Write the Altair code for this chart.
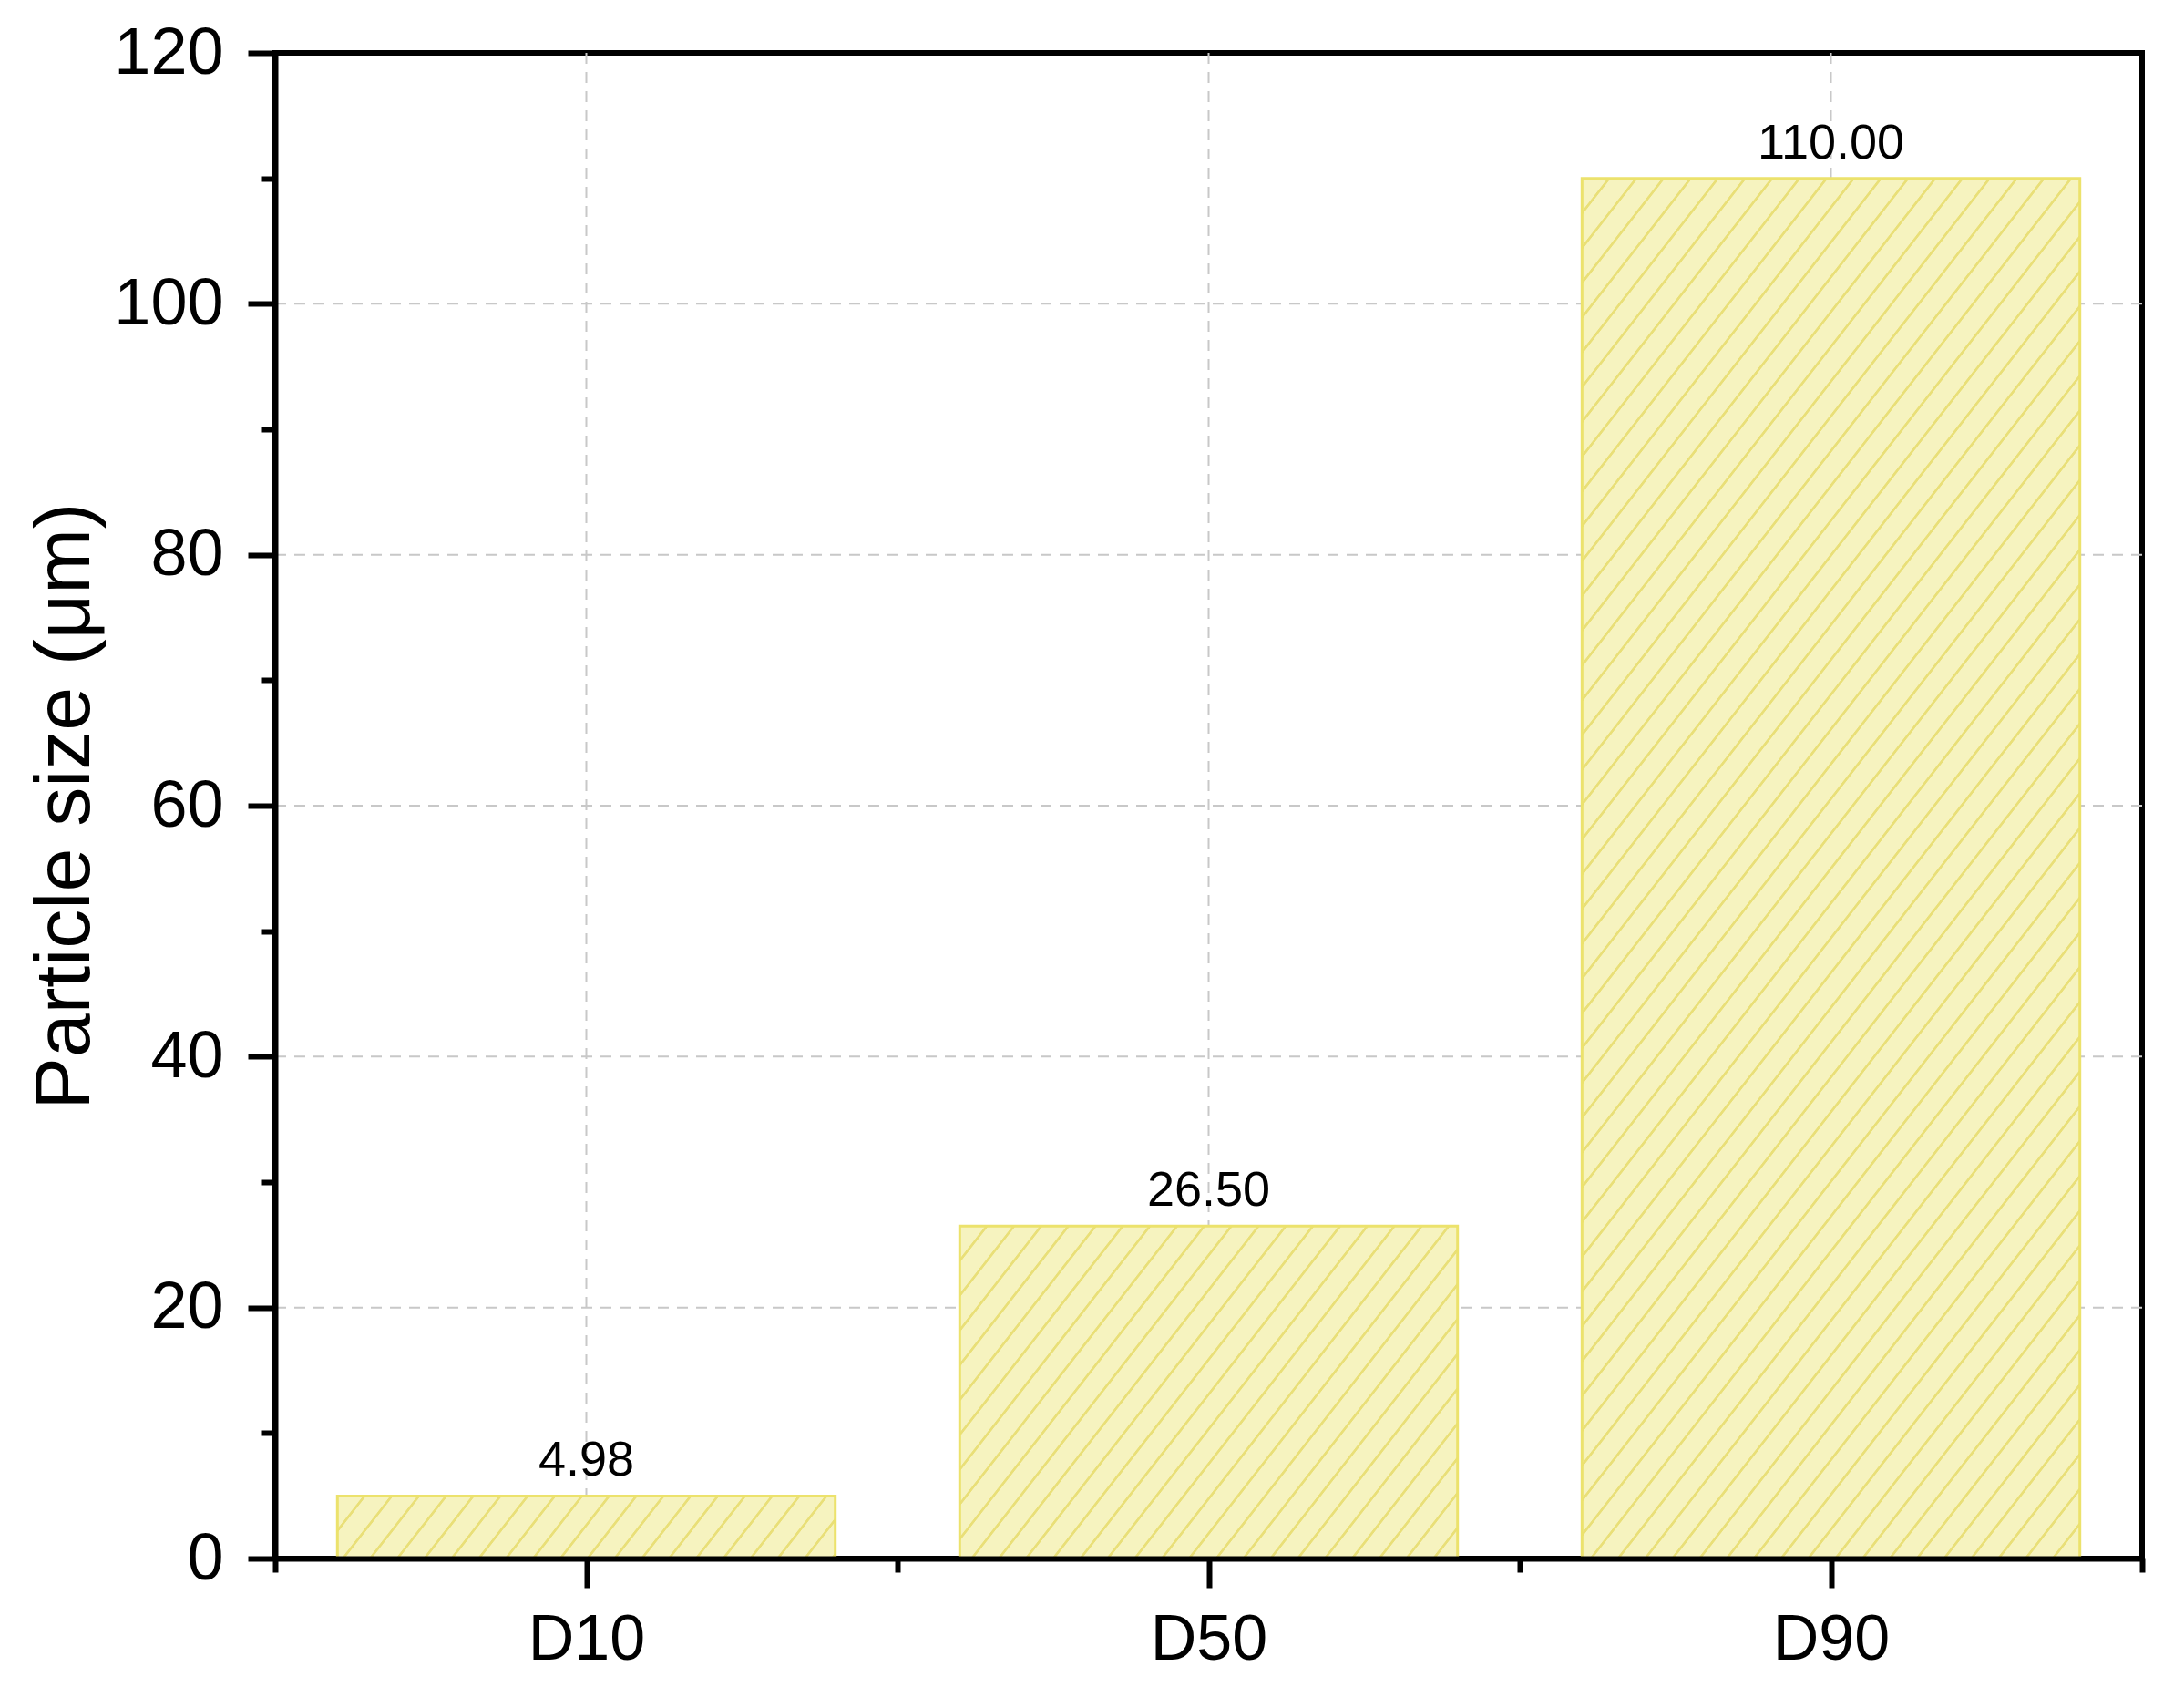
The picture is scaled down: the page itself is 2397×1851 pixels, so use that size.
import json
import math

import altair as alt
import pandas as pd

# ---------------- data ----------------
categories = ["D10", "D50", "D90"]
values = [4.98, 26.50, 110.00]

y_tick_values = list(range(0, 121, 10))
x_tick_values = [0, 0.5, 1, 1.5, 2, 2.5, 3]

# ---------------- layout / style ----------------
PLOT_W = 2049
PLOT_H = 1652
Y_MAX = 120
BAR_FRAC = 0.8

FILL = "#F6F3BF"
HATCH = "#E9DF78"
EDGE = "#ECE26C"
GRID = "#C8C8C8"
FONT = "Liberation Sans"

df = pd.DataFrame({"cat": categories, "value": values, "idx": list(range(len(categories)))})

# grid positions derived from the tick lists
grid_y = pd.DataFrame({"gy": [v for v in y_tick_values if v % 20 == 0 and 0 < v < Y_MAX]})
grid_x = pd.DataFrame({"gx": [v for v in x_tick_values if v % 1 == 0.5]})


def hatch_gradient(w, h, angle_deg=52.0, spacing=23.5, line_w=2.0, fade=0.7):
    """Diagonal hatch emulated with a linear gradient (bbox units)."""
    th = math.radians(angle_deg)
    a = w * math.sin(th)
    b = h * math.cos(th)
    length = a + b
    k = length / (a * a + b * b)
    dx, dy = k * a, k * b
    hw = line_w / 2.0 / length
    fd = fade / length
    stops = [{"offset": 0, "color": FILL}]
    i = 1
    while True:
        p = i * spacing / length
        if p + hw + fd >= 1:
            break
        for off, col in ((p - hw - fd, FILL), (p - hw, HATCH), (p + hw, HATCH), (p + hw + fd, FILL)):
            stops.append({"offset": round(off, 6), "color": col})
        i += 1
    stops.append({"offset": 1, "color": FILL})
    return {"gradient": "linear", "x1": 0, "y1": 0, "x2": round(dx, 6), "y2": round(dy, 6), "stops": stops}


band_px = PLOT_W / len(categories) * BAR_FRAC
conds = []
for c, v in zip(categories, values):
    conds.append({"test": f"datum.cat === '{c}'", "value": hatch_gradient(band_px, v / Y_MAX * PLOT_H)})
fill_enc = {"condition": conds[:-1], "value": conds[-1]["value"]}

half = "datum.value % 1 === 0.5"
x_axis = alt.Axis(
    values=x_tick_values,
    title=None,
    labelExpr=f"{half} ? {json.dumps(categories)}[floor(datum.value)] : ''",
    tickSize={"condition": {"test": half, "value": 32}, "value": 15},
    grid=False,
    domainColor="black",
    domainWidth=6,
    tickColor="black",
    tickWidth=6,
    labelFont=FONT,
    labelFontSize=70,
    labelColor="black",
    labelPadding=23,
    labelBaseline="top",
    labelFlush=False,
    labelOverlap=False,
    zindex=1,
)

major = "datum.value % 20 === 0"
y_axis = alt.Axis(
    values=y_tick_values,
    title="Particle size (μm)",
    titleFont=FONT,
    titleFontSize=86,
    titleFontWeight="normal",
    titleColor="black",
    titleAngle=270,
    titleBaseline="alphabetic",
    titleAlign="center",
    titleX=-205,
    titleY=PLOT_H / 2,
    labelExpr=f"{major} ? datum.label : ''",
    tickSize={"condition": {"test": major, "value": 30}, "value": 15},
    grid=False,
    domainColor="black",
    domainWidth=6,
    tickColor="black",
    tickWidth=6,
    labelFont=FONT,
    labelFontSize=72,
    labelColor="black",
    labelPadding=27,
    labelOverlap=False,
    zindex=1,
)

x_scale = alt.Scale(domain=[0, len(categories)], nice=False, zero=False)
y_scale = alt.Scale(domain=[0, Y_MAX], nice=False)

grid_h = alt.Chart(grid_y).mark_rule(color=GRID, strokeWidth=2, strokeDash=[12, 9]).encode(
    y=alt.Y("gy:Q", scale=y_scale, axis=y_axis)
)
grid_v = alt.Chart(grid_x).mark_rule(color=GRID, strokeWidth=2, strokeDash=[12, 9]).encode(
    x=alt.X("gx:Q", scale=x_scale, axis=x_axis)
)

base = alt.Chart(df)

bars = base.transform_calculate(
    x0=f"datum.idx + {(1 - BAR_FRAC) / 2}",
    x1=f"datum.idx + {1 - (1 - BAR_FRAC) / 2}",
).mark_rect(stroke=EDGE, strokeWidth=3).encode(
    x=alt.X("x0:Q", scale=x_scale, axis=x_axis),
    x2="x1:Q",
    y=alt.Y("value:Q", scale=y_scale, axis=y_axis),
    y2=alt.datum(0),
    fill=fill_enc,
)

labels = base.transform_calculate(xc="datum.idx + 0.5").mark_text(
    font=FONT, fontSize=54, baseline="alphabetic", align="center", dy=-22, color="black"
).encode(
    x=alt.X("xc:Q", scale=x_scale, axis=x_axis),
    y=alt.Y("value:Q", scale=y_scale, axis=y_axis),
    text=alt.Text("value:Q", format=".2f"),
)

chart = alt.layer(grid_h, grid_v, bars, labels).properties(
    width=PLOT_W,
    height=PLOT_H,
    padding={"left": 294, "top": 50, "right": 30, "bottom": 138},
    autosize=alt.AutoSizeParams(type="none"),
    background="white",
).configure_view(stroke="black", strokeWidth=6)

chart.save("out.html", embed_options={"renderer": "svg", "actions": False})
